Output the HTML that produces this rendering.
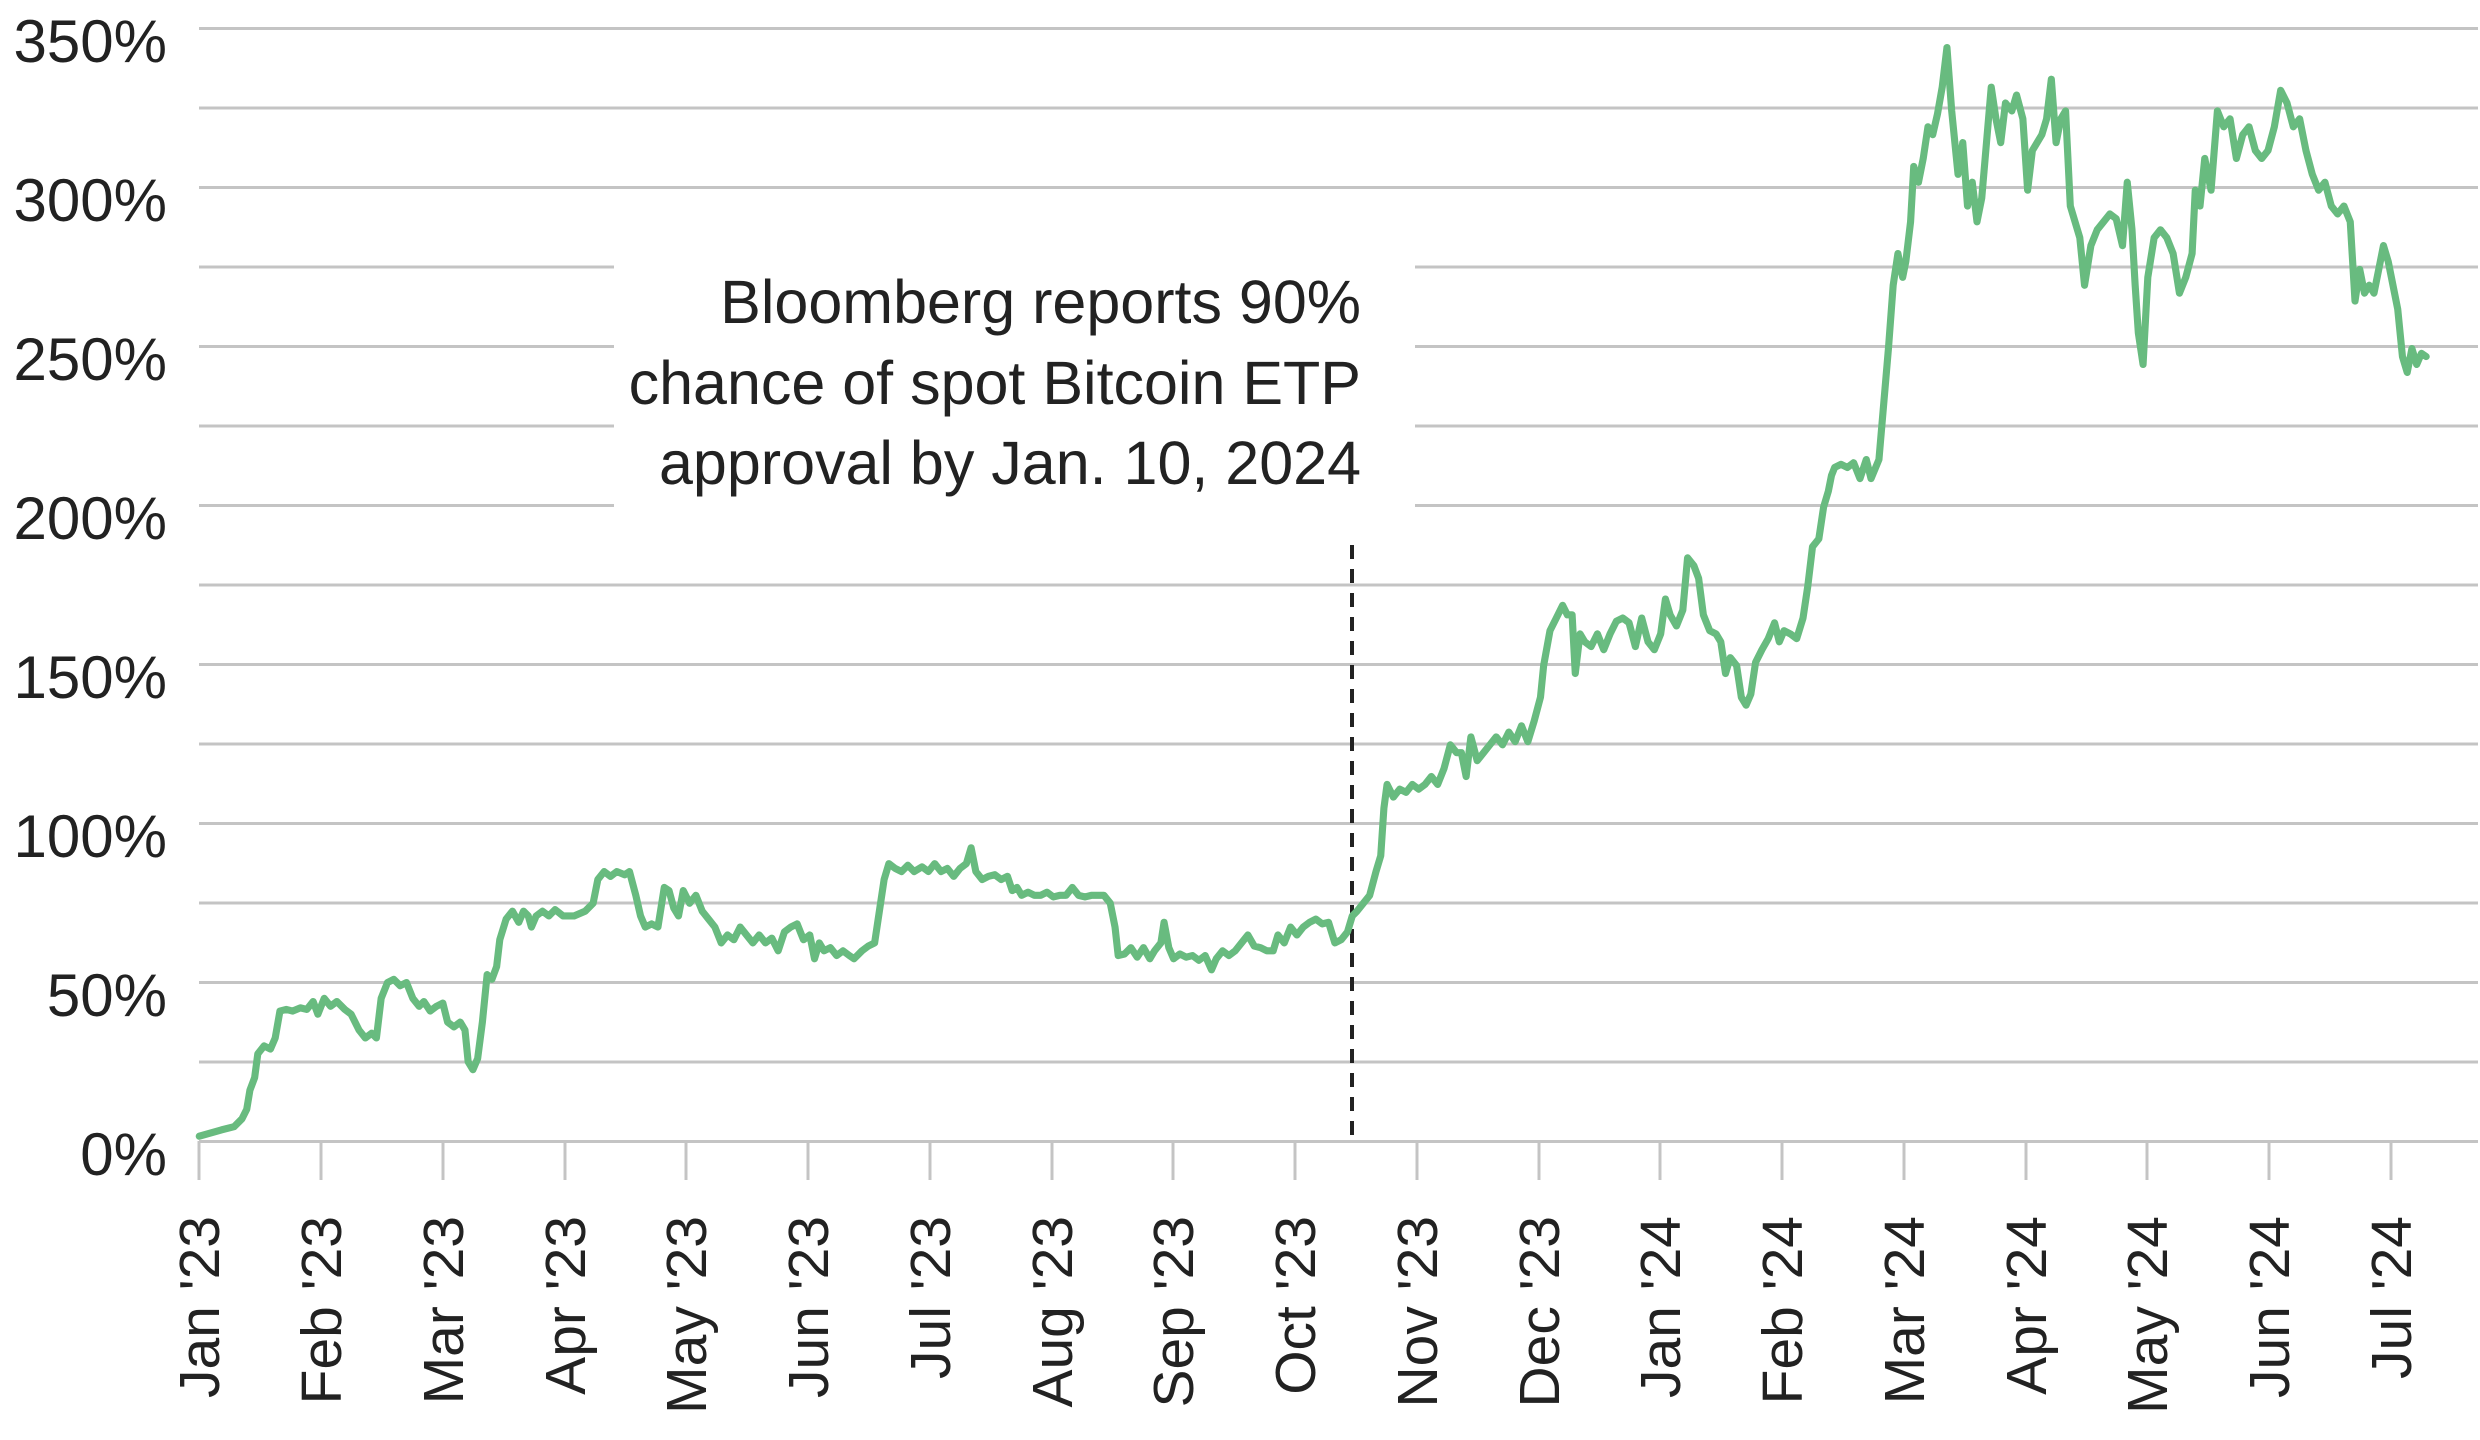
<!DOCTYPE html>
<html><head><meta charset="utf-8"><style>
html,body{margin:0;padding:0;background:#fff;}
svg{display:block;}
text{font-family:"Liberation Sans",sans-serif;fill:#222;}
</style></head><body>
<svg width="2480" height="1440" viewBox="0 0 2480 1440" xmlns="http://www.w3.org/2000/svg">
<g stroke="#c4c4c4" stroke-width="3">
<line x1="199" y1="28.5" x2="2478" y2="28.5"/>
<line x1="199" y1="108" x2="2478" y2="108"/>
<line x1="199" y1="187.5" x2="2478" y2="187.5"/>
<line x1="199" y1="267" x2="614" y2="267"/><line x1="1415" y1="267" x2="2478" y2="267"/>
<line x1="199" y1="346.5" x2="614" y2="346.5"/><line x1="1415" y1="346.5" x2="2478" y2="346.5"/>
<line x1="199" y1="426" x2="614" y2="426"/><line x1="1415" y1="426" x2="2478" y2="426"/>
<line x1="199" y1="505.5" x2="614" y2="505.5"/><line x1="1415" y1="505.5" x2="2478" y2="505.5"/>
<line x1="199" y1="585" x2="2478" y2="585"/>
<line x1="199" y1="664.5" x2="2478" y2="664.5"/>
<line x1="199" y1="744" x2="2478" y2="744"/>
<line x1="199" y1="823.5" x2="2478" y2="823.5"/>
<line x1="199" y1="903" x2="2478" y2="903"/>
<line x1="199" y1="982.5" x2="2478" y2="982.5"/>
<line x1="199" y1="1062" x2="2478" y2="1062"/>
<line x1="199" y1="1141.5" x2="2478" y2="1141.5"/>
</g>
<g stroke="#c4c4c4" stroke-width="3">
<line x1="199" y1="1141" x2="199" y2="1180"/><line x1="321" y1="1141" x2="321" y2="1180"/><line x1="443" y1="1141" x2="443" y2="1180"/><line x1="565" y1="1141" x2="565" y2="1180"/><line x1="686" y1="1141" x2="686" y2="1180"/><line x1="808" y1="1141" x2="808" y2="1180"/><line x1="930" y1="1141" x2="930" y2="1180"/><line x1="1052" y1="1141" x2="1052" y2="1180"/><line x1="1173" y1="1141" x2="1173" y2="1180"/><line x1="1295" y1="1141" x2="1295" y2="1180"/><line x1="1417" y1="1141" x2="1417" y2="1180"/><line x1="1539" y1="1141" x2="1539" y2="1180"/><line x1="1660" y1="1141" x2="1660" y2="1180"/><line x1="1782" y1="1141" x2="1782" y2="1180"/><line x1="1904" y1="1141" x2="1904" y2="1180"/><line x1="2026" y1="1141" x2="2026" y2="1180"/><line x1="2147" y1="1141" x2="2147" y2="1180"/><line x1="2269" y1="1141" x2="2269" y2="1180"/><line x1="2391" y1="1141" x2="2391" y2="1180"/>
</g>
<g font-size="60" text-anchor="end">
<text x="167" y="62">350%</text><text x="167" y="221">300%</text><text x="167" y="380">250%</text><text x="167" y="539">200%</text><text x="167" y="698">150%</text><text x="167" y="857">100%</text><text x="167" y="1016">50%</text><text x="167" y="1175">0%</text>
</g>
<g font-size="57" text-anchor="end">
<text transform="translate(219,1216) rotate(-90)">Jan '23</text>
<text transform="translate(341,1216) rotate(-90)">Feb '23</text>
<text transform="translate(463,1216) rotate(-90)">Mar '23</text>
<text transform="translate(585,1216) rotate(-90)">Apr '23</text>
<text transform="translate(706,1216) rotate(-90)">May '23</text>
<text transform="translate(828,1216) rotate(-90)">Jun '23</text>
<text transform="translate(950,1216) rotate(-90)">Jul '23</text>
<text transform="translate(1072,1216) rotate(-90)">Aug '23</text>
<text transform="translate(1193,1216) rotate(-90)">Sep '23</text>
<text transform="translate(1315,1216) rotate(-90)">Oct '23</text>
<text transform="translate(1437,1216) rotate(-90)">Nov '23</text>
<text transform="translate(1559,1216) rotate(-90)">Dec '23</text>
<text transform="translate(1680,1216) rotate(-90)">Jan '24</text>
<text transform="translate(1802,1216) rotate(-90)">Feb '24</text>
<text transform="translate(1924,1216) rotate(-90)">Mar '24</text>
<text transform="translate(2046,1216) rotate(-90)">Apr '24</text>
<text transform="translate(2167,1216) rotate(-90)">May '24</text>
<text transform="translate(2289,1216) rotate(-90)">Jun '24</text>
<text transform="translate(2411,1216) rotate(-90)">Jul '24</text>
</g>
<g font-size="61" text-anchor="end">
<text x="1361" y="323">Bloomberg reports 90%</text>
<text x="1361" y="404">chance of spot Bitcoin ETP</text>
<text x="1361" y="484">approval by Jan. 10, 2024</text>
</g>
<line x1="1352" y1="545" x2="1352" y2="1141" stroke="#222" stroke-width="4" stroke-dasharray="14,10"/>
<g transform="scale(1.5816,1.5847)">
<polyline fill="none" stroke="#68bb7f" stroke-width="4.5" stroke-linejoin="round" stroke-linecap="round" points="126,717 133,715 140,713 148,711 153,706 156,700 158,688 161,680 163,665 167,660 171,662 174,655 177,638 181,637 185,638 190,636 194,637 198,632 201,640 205,630 209,635 213,632 218,637 222,640 227,650 231,655 235,652 238,655 241,630 245,620 249,618 253,622 257,620 261,630 265,635 268,632 272,638 276,635 280,633 283,645 287,648 291,645 294,650 296,670 299,675 302,668 305,645 308,615 311,618 314,610 316,593 320,580 324,575 328,582 331,575 334,578 336,585 339,578 343,575 347,578 351,574 356,578 363,578 370,575 375,570 378,555 382,550 386,553 390,550 395,552 398,550 402,565 405,578 408,585 412,583 416,585 420,560 423,562 426,573 429,578 432,562 436,570 440,565 444,575 448,580 452,585 456,595 460,590 464,593 468,585 472,590 476,595 480,590 484,595 488,592 492,600 496,588 500,585 504,583 508,593 512,590 515,605 518,595 521,600 525,598 529,603 533,600 537,603 540,605 545,600 549,597 553,595 556,575 559,555 562,545 566,548 570,550 574,546 578,550 583,547 587,550 591,545 595,550 599,548 603,553 607,548 611,545 614,535 617,550 621,555 625,553 629,552 633,555 637,553 640,562 643,560 646,565 650,563 654,565 658,565 662,563 666,566 670,565 674,565 678,560 682,565 686,566 690,565 694,565 698,565 702,570 705,585 707,603 711,602 715,598 719,604 723,598 727,605 730,600 734,595 736,582 739,598 742,605 746,602 750,604 754,603 758,606 762,603 766,612 769,605 773,600 777,603 781,600 785,595 789,590 793,597 797,598 801,600 805,600 808,590 812,595 816,585 820,590 824,585 828,582 832,580 836,583 840,582 844,595 848,593 852,588 855,578 858,575 862,570 866,565 870,550 873,540 875,510 877,495 881,503 885,498 889,500 893,495 897,498 901,495 905,490 909,495 913,485 917,470 921,475 924,475 927,490 930,465 934,480 938,475 942,470 946,465 950,470 954,462 958,468 962,458 966,468 970,455 974,440 976,420 980,398 984,390 988,382 991,388 994,388 996,425 999,400 1002,405 1006,408 1010,400 1014,410 1018,400 1022,392 1026,390 1030,393 1034,408 1038,390 1042,405 1046,410 1050,400 1053,378 1056,388 1060,395 1064,385 1067,352 1071,357 1074,365 1077,388 1081,398 1085,400 1088,405 1091,425 1094,415 1098,420 1101,440 1104,445 1107,438 1110,418 1114,410 1118,403 1122,393 1125,405 1128,398 1132,400 1136,403 1140,390 1143,370 1146,345 1150,340 1153,320 1156,310 1158,300 1160,295 1164,293 1168,295 1172,292 1176,302 1180,290 1183,302 1188,290 1191,255 1194,220 1197,180 1200,160 1203,175 1205,165 1208,140 1210,105 1213,115 1216,100 1219,80 1222,85 1225,72 1228,55 1231,30 1234,70 1238,110 1241,90 1244,130 1247,115 1250,140 1253,125 1256,90 1259,55 1262,75 1265,90 1268,65 1272,70 1275,60 1279,75 1282,120 1285,95 1288,90 1291,85 1294,75 1297,50 1300,90 1303,75 1306,70 1309,130 1312,140 1315,150 1318,180 1322,155 1326,145 1330,140 1334,135 1338,138 1342,155 1345,115 1348,145 1350,180 1352,210 1355,230 1358,175 1362,150 1366,145 1370,150 1374,160 1378,185 1382,175 1386,160 1388,120 1391,130 1394,100 1398,120 1402,70 1406,80 1410,75 1414,100 1418,85 1422,80 1426,95 1430,100 1434,95 1438,80 1442,57 1446,65 1450,80 1454,75 1458,95 1462,110 1466,120 1470,115 1474,130 1478,135 1482,130 1486,140 1489,190 1492,170 1495,185 1498,180 1501,185 1504,170 1507,155 1510,165 1513,180 1516,195 1519,225 1522,235 1525,220 1528,230 1531,223 1534,225"/>
</g>
</svg>
</body></html>
